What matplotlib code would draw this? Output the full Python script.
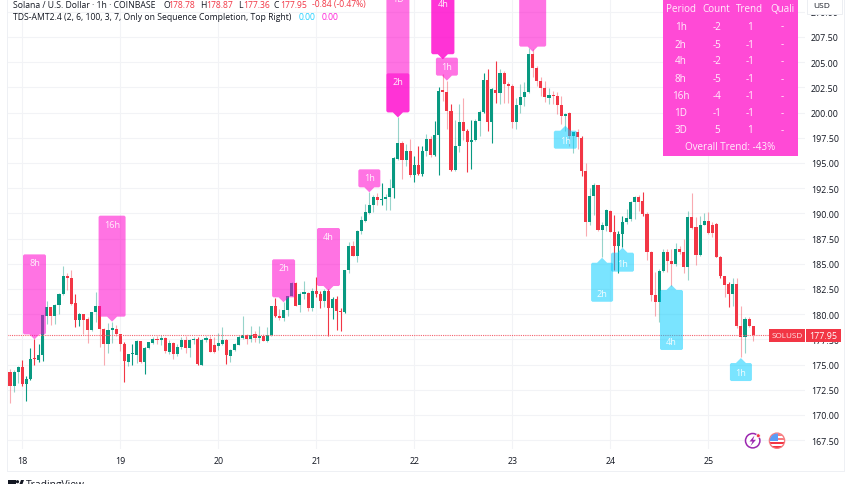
import matplotlib
matplotlib.use("Agg")
import matplotlib.pyplot as plt
from matplotlib.patches import Polygon, Rectangle, Circle

plt.rcParams['font.family'] = ['Open Sans', 'DejaVu Sans']

opens = [174.23,172.91,174.23,174.8,173.07,173.57,175.66,175.45,176,179.85,
180.75,179.8,180.9,182,183.76,183.63,181.08,179.46,180,179.53,
178.47,180.2,180.85,178.53,177.04,178.47,178.53,178,177.04,175.3,
176.02,176,177.3,175.23,176.65,177.14,177.54,177.4,177.64,176.28,
177.11,176.05,176.75,177.44,176.65,177.4,177.54,175,177.44,177.54,
176.95,176.81,177.04,177.47,175.9,176.4,176.98,177.67,177.94,177.54,
178,177.64,177.87,177.37,177.94,180.78,179.79,179.62,180.45,181.84,
183.06,180.95,182,182.14,180.6,182.3,182.04,181.28,182.33,180.58,
181.51,180.32,180.19,184.39,186.73,185.81,188.29,189.28,190.04,190.83,
191.66,191.33,191.43,191.6,192.52,195.4,196.95,195.3,196.22,193.81,
194.8,193.94,196.22,197.38,195.79,197.78,202.18,202.08,200.13,194.34,
196.72,199.1,198.2,197.05,197.32,199.2,200.03,203.23,199.03,202.27,
201.9,203.93,202.84,202.6,199.03,200.75,201.5,202,205.81,204.39,
203.17,202.4,201.48,201.74,201.6,200.75,199.63,199.96,197.71,198.04,
197.48,194.24,189.18,191.69,192.82,188.35,188.78,190.27,188.19,186.8,
187.95,189.1,189.44,191.1,191.66,191.2,189.94,186.14,181.9,181.18,
184.25,186.14,185.3,184.98,186.47,186.14,184.65,189.61,188.62,185.87,
188.85,189.28,188.85,188.91,185.7,183.75,182.99,182,182.99,178.86,
177.77,179.52,178.78]

closes = [172.91,174.23,174.8,173.1,173.57,175.56,175.56,176,179.9,180.68,
179.8,180.95,182,183.76,183.63,181,179.46,180.05,179.46,178.47,
180.25,180.85,178.53,177.04,178.43,178.53,178,177.04,175.36,176.05,
176.09,177.3,175.23,176.65,177.2,177.54,177.4,177.64,176.35,177.11,
176.05,176.75,177.44,176.65,177.4,177.54,175.06,177.44,177.6,176.28,
176.28,177.11,177.47,175.95,176.45,177,177.7,177.94,177.54,177.97,
177.6,177.87,177.37,177.94,180.78,179.79,179.62,180.45,181.84,183.1,
180.85,182,182.17,180.6,182.3,182,181.28,182.33,180.58,181.51,
180.35,180.19,184.39,186.73,185.81,188.29,189.35,190.11,190.87,191.63,
191.33,191.43,191.6,192.52,195.46,196.95,195.3,196.22,193.81,194.8,
193.94,196.22,197.38,195.79,197.78,202.18,202.08,200.2,194.3,196.72,
199.1,198.2,197.05,197.32,199.2,200.03,203.23,199.1,202.34,201.9,
203.93,202.84,202.6,199.03,200.75,201.5,202,205.81,204.39,203.17,
202.4,201.5,201.74,201.6,200.75,199.63,199.9,197.71,198.04,197.54,
194.24,189.18,191.69,192.85,188.35,188.85,190.34,188.19,186.8,188,
189.18,189.5,191.1,191.66,191.16,189.94,186.14,181.9,181.18,184.32,
186.14,185.3,184.98,186.47,186.14,184.65,189.61,188.58,185.87,188.85,
189.28,188.05,188.05,185.7,183.82,182.9,182,182.99,178.86,177.77,
179.52,178.8,177.95]

highs = [174.56,174.5,174.9,175.45,173.9,176.65,177.5,177,179.9,181.28,
180.75,181,182.07,184.75,184.1,184.4,182,180.1,180.05,179.7,
180.25,182.24,180.85,178.6,179.1,179.26,178.93,178,177.2,176.05,
177.08,177.47,177.37,176.7,177.27,177.74,177.8,177.94,177.7,177.4,
177.27,177.08,177.7,177.8,177.54,177.7,177.7,177.54,177.87,177.87,
177.7,178.1,178.7,177.54,176.55,177.14,177.94,179.8,178.04,178.8,
178.37,178.8,178,178.7,180.78,181.6,180.5,181.18,181.84,183.2,
183.23,182.17,183.26,182.24,182.63,183.66,182.33,182.5,182.5,181.67,
181.84,180.58,184.39,187.13,187.3,188.35,189.78,190.93,192.09,191.83,
192,193,191.93,193.41,195.63,199.53,197.2,196.9,197.38,195.73,
196.72,196.72,197.88,197.71,199.2,202.5,203.8,203.17,200.9,199.3,
200.85,201.4,198.37,199.3,199.37,200.29,203.93,204.3,202.4,205.15,
204.32,204.16,203,202.84,201.4,202.84,203,206.4,206.3,204.65,
203.5,203.17,202.4,202.17,202,201.68,200,200.1,198.1,198.37,
197.64,195,192.52,193,192.82,189.18,190.43,190.34,189.84,188.3,
189.77,190.43,191.26,191.76,191.82,192.09,190.17,186.3,184.15,184.48,
186.47,186.5,186.47,187.06,186.8,187.46,190.27,192.02,189.6,189.77,
190,190.1,189.1,189.05,185.8,183.75,183.2,183.56,183.56,180.85,
179.69,179.75,178.87]

lows = [171.19,172.3,173.2,172.9,171.4,173.5,175,175.3,175.4,179,
178.9,179,180,181.9,182.4,180.9,178.7,178.8,178.04,177.14,
178.37,179.2,176.7,175,176.2,177.14,177.87,176.3,173.3,174.9,
174.96,175.16,175.2,174.1,176.5,177,177.04,176.9,176.15,176.05,
175.56,175.9,176.55,176.2,175.8,177.04,174.96,175,177.28,176.28,
176.15,176.4,176.9,175.06,175.3,176.3,176.9,177.54,177,177.2,
177.2,177.14,177.3,177.28,177.87,179.7,179.46,179.36,179.85,181.8,
180.78,180.2,181.5,180.35,180.35,181.67,180.58,180.68,177.87,179.53,
178.47,178.37,180.12,184.05,185.74,185.15,188,189.18,189.94,190.11,
190.83,190.83,190.37,190.34,191.53,195.33,193.41,194.74,193.58,193.15,
193.81,193.68,195.73,195.56,195.73,193.8,201.2,198.4,194.24,194.24,
196.13,197.28,194.07,194.4,197.22,197.71,200,198.2,196.98,200.95,
200.85,200.95,200.95,198.44,198.37,199.96,200.7,201.94,203.5,202.67,
201.68,201.08,200.85,200.85,199.86,198.87,198.2,196.7,196,196.39,
193.68,187.72,188.8,189.8,188.3,185.64,188.3,188.12,184.42,184.05,
186.63,188.95,189.28,189.44,190.27,189.77,185.41,181.34,179.85,179.26,
184.15,184.15,182.83,184.8,185.97,184.05,183.42,188.5,184.88,185.8,
188.8,187.95,187.62,185.64,183.56,181.7,180.7,180.85,178.6,175.72,
176.15,178.7,177.36]

solid_wicks = [3,4,5,6,7,8,16,17,28,30,33,46,47,53,65,75,76,78,79,80,81,82,91,94,99,
               100,101,104,105,108,112,113,116,117,118,119,140,148,149,150,155,173,174,176]

day_bars = [3, 27, 51, 75, 99, 123, 147, 171]
day_labels = ['18', '19', '20', '21', '22', '23', '24', '25']
price_ticks = [167.5 + 2.5 * k for k in range(18)]
last_price = 177.95

buy_texts = ['8h', '16h', '2h', '4h', '1h', '1D', '2h', '4h', '', '1h', '']
buy_bars = [6, 25, 67, 78, 88, 95, 95, 106, 106, 107, 128]
buy_tips = [177.5, 179.26, 181.18, 182.3, 192.09, 199.53, 199.53, 205.3, 205.3, 203.17, 206.05]
buy_heights = [80, 101, 38, 58, 18, 122, 39, 59, 59, 18, 68]
buy_widths = [23, 27, 23, 23, 22, 23, 23, 23, 23, 22, 27]

sell_texts = ['1h', '2h', '1h', '4h', '1h']
sell_bars = [136, 145, 150, 162, 179]
sell_tips = [198.7, 185.6, 186.6, 182.9, 175.65]
sell_heights = [18, 39, 19, 60, 18]
sell_widths = [23, 22, 23, 23, 22]

table_header = ['Period', 'Count', 'Trend', 'Quali']
table_period = ['1h', '2h', '4h', '8h', '16h', '1D', '3D']
table_count = ['-2', '-5', '-2', '-5', '-4', '-1', '5']
table_trend = ['1', '-1', '-1', '-1', '-1', '-1', '1']
table_quali = ['-', '-', '-', '-', '-', '-', '-']

UP, DOWN = '#089981', '#f23645'
PINK, CYAN = '#ff00cc', '#00ccff'
TEXT = '#131722'
GRID = '#f2f3f6'

fig = plt.figure(figsize=(8.52, 4.85), dpi=100, facecolor='white')
ax = fig.add_axes([7/852, 35/485, 798/852, 450/485])
bar_px = 98 / 24
ax.set_xlim((7 - 10) / bar_px, (805 - 10) / bar_px)
ax.set_ylim(207.5 - 412 / 10.08, 207.5 + 38 / 10.08)
for s in ax.spines.values():
    s.set_visible(False)
ax.set_axisbelow(True)
ax.grid(True, color=GRID, lw=0.8)
ax.yaxis.tick_right()
ax.set_yticks(price_ticks)
ax.set_yticklabels([f'{p:.2f}' for p in price_ticks], fontsize=6.4, color=TEXT)
ax.set_xticks(day_bars)
ax.set_xticklabels(day_labels, fontsize=6.4, color=TEXT)
ax.tick_params(length=0)
ax.tick_params(axis='y', pad=4.4)
ax.tick_params(axis='x', pad=5)

for i, (o, h, l, c) in enumerate(zip(opens, highs, lows, closes)):
    col = UP if c >= o else DOWN
    ax.vlines(i, l, h, color=col, lw=0.8, alpha=1.0 if i in solid_wicks else 0.42, zorder=2)
    ax.bar(i, max(abs(c - o), 0.12), bottom=min(o, c), width=0.76, color=col, linewidth=0, zorder=3)

ax.axhline(last_price, color='#f4626e', lw=0.8, ls=(0, (1, 1)), zorder=4)

ov = fig.add_axes([0, 0, 1, 1])
ov.set_xlim(0, 852)
ov.set_ylim(485, 0)
ov.axis('off')
ov.patch.set_alpha(0)


def to_px(bar, price):
    x, y = ax.transData.transform((bar, price))
    return x, 485 - y


def label(bar, tip, h, w, text, col, alpha, down, tc):
    x, y = to_px(bar, tip)
    s = 1 if down else -1
    t, r, c = 5.0, w / 2, 1.2
    pts = [(x, y), (x + 5, y - s * t), (x + r - c, y - s * t), (x + r, y - s * (t + c)),
           (x + r, y - s * (t + h - c)), (x + r - c, y - s * (t + h)), (x - r + c, y - s * (t + h)),
           (x - r, y - s * (t + h - c)), (x - r, y - s * (t + c)), (x - r + c, y - s * t), (x - 5, y - s * t)]
    ov.add_patch(Polygon(pts, closed=True, fc=col, ec='none', alpha=alpha, clip_on=True))
    if text:
        ov.text(x, y - s * (t + h - 8.5), text, color=tc, fontsize=6.6, ha='center', va='center')


for b, tp, h, w, t in zip(buy_bars, buy_tips, buy_heights, buy_widths, buy_texts):
    label(b, tp, h, w, t, PINK, 0.55, True, '#fff0fc')
for b, tp, h, w, t in zip(sell_bars, sell_tips, sell_heights, sell_widths, sell_texts):
    label(b, tp, h, w, t, CYAN, 0.52, False, '#f0fcff')

# trend table
ov.add_patch(Rectangle((663, 0.5), 134.7, 156.2, fc='#ff4ad6', ec='none'))
col_x = [680.7, 716.7, 750, 782]
row_y = [9, 27, 45, 62, 79.5, 96.5, 113.5, 131]
tc = '#fff0fc'
for x, t in zip(col_x, table_header):
    ov.text(x, row_y[0], t, color=tc, fontsize=7.1, ha='center', va='center')
for k in range(len(table_period)):
    y = row_y[k + 1]
    for x, t in zip(col_x, (table_period[k], table_count[k], table_trend[k], table_quali[k])):
        ov.text(x, y, t, color=tc, fontsize=7.1, ha='center', va='center')
ov.text(730, 148, 'Overall Trend: -43%', color=tc, fontsize=7.1, ha='center', va='center')

# header
HS = 6.2
ov.text(13, 5, 'Solana / U.S. Dollar · 1h · COINBASE', color=TEXT, fontsize=HS, va='center')
for x, t, col in [(163, 'O', TEXT), (168.7, '178.78', DOWN), (200.3, 'H', TEXT), (206, '178.87', DOWN),
                  (238, 'L', TEXT), (243, '177.36', DOWN), (274, 'C', TEXT), (280, '177.95', DOWN),
                  (312, '-0.84 (-0.47%)', DOWN)]:
    ov.text(x, 5, t, color=col, fontsize=HS, va='center')
ov.text(13, 17.5, 'TDS-AMT2.4 (2, 6, 100, 3, 7, Only on Sequence Completion, Top Right)',
        color=TEXT, fontsize=HS, va='center')
ov.text(299, 17.5, '0.00', color='#22d0ff', fontsize=HS, va='center')
ov.text(321.7, 17.5, '0.00', color='#ff22d8', fontsize=HS, va='center')

# right scale items
ov.add_patch(Rectangle((807, -3), 34.7, 18, fc='white', ec='#eceef2', lw=0.7))
ov.text(822, 6, 'USD', color=TEXT, fontsize=6.0, ha='center', va='center')
ov.add_patch(Rectangle((768.7, 330), 36.3, 12.7, fc=DOWN, ec='none'))
ov.add_patch(Rectangle((805.6, 330), 35.7, 12.7, fc=DOWN, ec='none'))
ov.text(787, 336.3, 'SOLUSD', color='#ffe8ea', fontsize=5.9, ha='center', va='center')
ov.text(823.5, 336.3, f'{last_price:.2f}', color='white', fontsize=6.4, ha='center', va='center')

# frame
for xs, ys in [((7, 844), (472, 472)), ((7, 7), (0, 472)), ((844, 844), (0, 472))]:
    ov.plot(xs, ys, color='#eef0f4', lw=0.7)

# event icons
ov.add_patch(Circle((752.7, 441.7), 7.2, fc='white', ec='#9c27b0', lw=1.1))
ov.add_patch(Polygon([(754.5, 436.5), (749.5, 442.5), (752.5, 442.5), (750.5, 447), (756, 440.8), (753, 440.8)],
                     closed=True, fc='#9c27b0', ec='none'))
ov.add_patch(Circle((758.3, 436.7), 1.9, fc='#f23645', ec='white', lw=0.5))
clipc = Circle((777, 441.7), 7.2, transform=ov.transData)
ov.add_patch(Circle((777, 441.7), 7.6, fc='white', ec='#f77c80', lw=1.0))
for y, h, col in [(435, 1.8, '#f77c80'), (439.2, 1.8, '#f77c80'), (443.4, 1.8, '#f23645'), (447, 1.8, '#f23645')]:
    r = ov.add_patch(Rectangle((769, y), 16, h, fc=col, ec='none'))
    r.set_clip_path(clipc)
r = ov.add_patch(Rectangle((769, 434), 8.5, 7.5, fc='#5b9cf6', ec='none'))
r.set_clip_path(clipc)

# brand
ov.add_patch(Rectangle((7.5, 481), 8.5, 3.5, fc=TEXT, ec='none'))
ov.add_patch(Rectangle((11.5, 481), 3.5, 8, fc=TEXT, ec='none'))
ov.add_patch(Polygon([(18, 489), (21, 481), (24, 481), (21, 489)], closed=True, fc=TEXT, ec='none'))
ov.add_patch(Circle((17.5, 482.7), 1.6, fc=TEXT, ec='none'))
ov.text(25.5, 486, 'TradingView', color=TEXT, fontsize=7.4, va='center')

fig.savefig('out.png', dpi=100)
